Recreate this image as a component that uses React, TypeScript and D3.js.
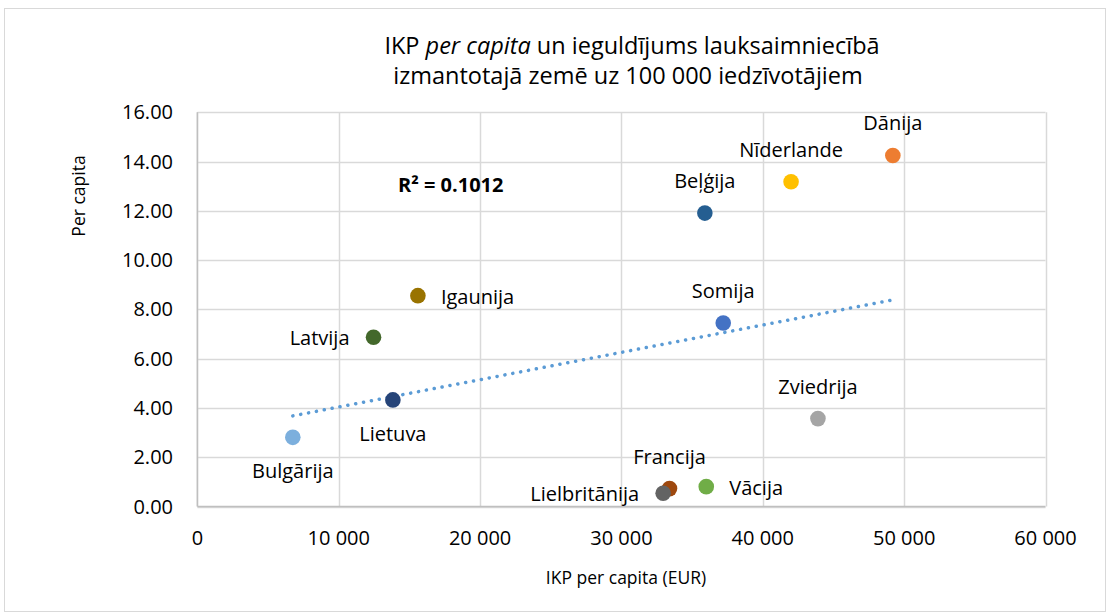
import React from "react";
import * as d3 from "d3";

const countries = ["Dānija", "Nīderlande", "Beļģija", "Somija", "Igaunija", "Latvija", "Lietuva", "Bulgārija", "Zviedrija", "Francija", "Lielbritānija", "Vācija"];
const gdpPerCapita = [49200, 42000, 35900, 37200, 15600, 12460, 13830, 6750, 43900, 33400, 32950, 36000];
const investment = [14.25, 13.18, 11.91, 7.45, 8.56, 6.87, 4.33, 2.81, 3.57, 0.73, 0.54, 0.81];
const colors = ["#ED7D31", "#FFC000", "#255E91", "#4472C4", "#997300", "#43682B", "#264478", "#7CAFDD", "#A5A5A5", "#9E480E", "#636363", "#70AD47"];
const labelSides = ["above", "above", "above", "above", "right", "left", "below", "below", "above", "above", "left", "right"];
const xTicks = [0, 10000, 20000, 30000, 40000, 50000, 60000];
const yTicks = [0, 2, 4, 6, 8, 10, 12, 14, 16];
const titleLine1 = ["IKP ", "per capita", " un ieguldījums lauksaimniecībā"];
const titleLine2 = "izmantotajā zemē uz 100 000 iedzīvotājiem";
const xTitle = "IKP per capita (EUR)";
const yTitle = "Per capita";
const r2Text = "R² = 0.1012";

const W = 1110;
const H = 615;
const FONT = "'Open Sans', sans-serif";

export default function App() {
  const x = d3.scaleLinear().domain([0, 60000]).range([197.4, 1045.5]);
  const y = d3.scaleLinear().domain([0, 16]).range([506.6, 112.3]);

  const pts = countries.map((c, i) => ({ c, x: gdpPerCapita[i], y: investment[i], color: colors[i], side: labelSides[i] }));

  // least-squares trendline
  const mx = d3.mean(gdpPerCapita)!;
  const my = d3.mean(investment)!;
  let sxy = 0, sxx = 0;
  pts.forEach((p) => { sxy += (p.x - mx) * (p.y - my); sxx += (p.x - mx) ** 2; });
  const slope = sxy / sxx;
  const icpt = my - slope * mx;
  const [xmin, xmax] = d3.extent(gdpPerCapita) as [number, number];
  const line = d3.line<number>().x((v) => x(v)).y((v) => y(icpt + slope * v));

  const fmtX = (v: number) => d3.format(",")(v).replace(/,/g, " ");
  const fmtY = d3.format(".2f");

  const drawOrder = [0, 1, 2, 3, 4, 5, 6, 7, 8, 9, 11, 10];

  return (
    <svg width={W} height={H} style={{ position: "absolute", left: 0, top: 0, background: "#fff" }} fontFamily={FONT}>
      <rect x={4.5} y={8.5} width={1101} height={603} fill="#fff" stroke="#D9D9D9" strokeWidth={1} />
      <text x={632} y={54} textAnchor="middle" fontSize={23.5} fill="#000">
        <tspan>{titleLine1[0]}</tspan>
        <tspan fontStyle="italic">{titleLine1[1]}</tspan>
        <tspan>{titleLine1[2]}</tspan>
      </text>
      <text x={628} y={84} textAnchor="middle" fontSize={23.5} fill="#000">{titleLine2}</text>

      {yTicks.map((t) => (
        <line key={"gy" + t} x1={x(0)} x2={x(60000)} y1={Math.round(y(t)) + 0.5} y2={Math.round(y(t)) + 0.5} stroke="#D9D9D9" strokeWidth={1.5} />
      ))}
      {xTicks.map((t) => (
        <line key={"gx" + t} y1={y(0)} y2={y(16)} x1={Math.round(x(t)) + 0.5} x2={Math.round(x(t)) + 0.5} stroke="#D9D9D9" strokeWidth={1.5} />
      ))}
      <line x1={x(0)} x2={x(0)} y1={y(0)} y2={y(16)} stroke="#BFBFBF" strokeWidth={1.5} />
      <line x1={x(0)} x2={x(60000)} y1={y(0)} y2={y(0)} stroke="#BFBFBF" strokeWidth={1.5} />

      {yTicks.map((t) => (
        <text key={"ty" + t} x={173} y={y(t)} dy="0.35em" textAnchor="end" fontSize={20} fill="#000">{fmtY(t)}</text>
      ))}
      {xTicks.map((t) => (
        <text key={"tx" + t} x={x(t)} y={545} textAnchor="middle" fontSize={20} fill="#000">{fmtX(t)}</text>
      ))}

      <text x={626} y={584} textAnchor="middle" fontSize={17.5} fill="#000">{xTitle}</text>
      <text transform="translate(85,196) rotate(-90)" textAnchor="middle" fontSize={17.5} fill="#000">{yTitle}</text>

      <path d={line([xmin, xmax]) || ""} fill="none" stroke="#5B9BD5" strokeWidth={3.5} strokeDasharray="0.1 7.9" strokeLinecap="round" />

      {drawOrder.map((i) => {
        const p = pts[i];
        return <circle key={p.c} cx={x(p.x)} cy={y(p.y)} r={7.8} fill={p.color} />;
      })}

      {pts.map((p) => {
        const px = x(p.x);
        const py = y(p.y);
        let tx = px, ty = py, anchor: "start" | "middle" | "end" = "middle";
        if (p.side === "above") { ty = py - 25; }
        else if (p.side === "below") { ty = py + 41; }
        else if (p.side === "right") { tx = px + 23; ty = py + 8; anchor = "start"; }
        else { tx = px - 24; ty = py + 8; anchor = "end"; }
        return <text key={"l" + p.c} x={tx} y={ty} textAnchor={anchor} fontSize={20} fill="#000">{p.c}</text>;
      })}

      <text x={398} y={192} fontSize={20} fontWeight="bold" fill="#000">{r2Text}</text>
    </svg>
  );
}
